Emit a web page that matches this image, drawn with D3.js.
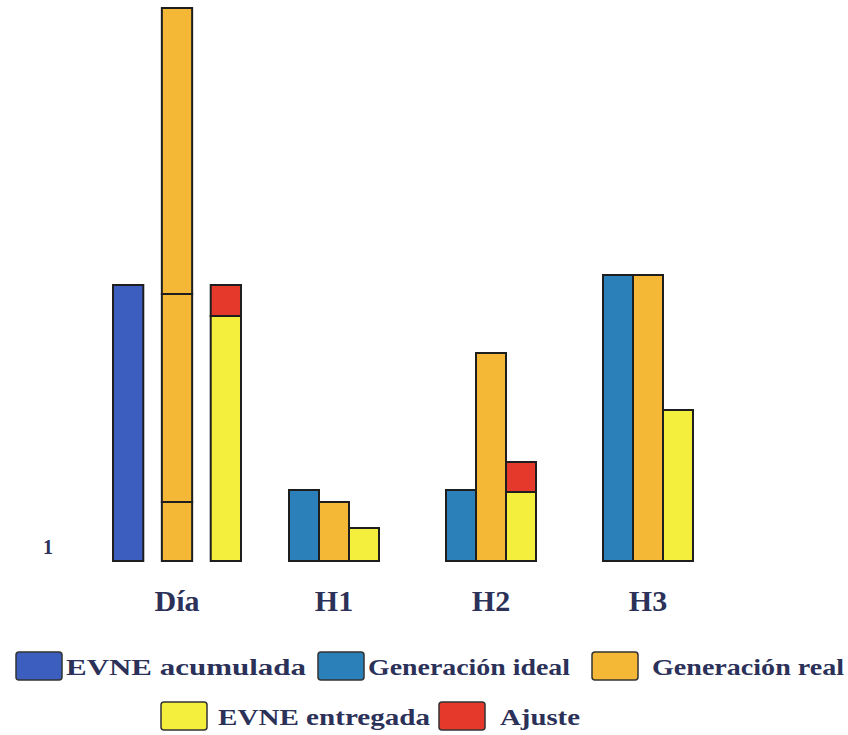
<!DOCTYPE html>
<html>
<head>
<meta charset="utf-8">
<script src="https://cdn.jsdelivr.net/npm/d3@7"></script>
<style>
  body { margin: 0; background: #fff; }
  svg text { font-family: "Liberation Serif", "DejaVu Serif", serif; font-weight: bold; fill: #2b3158; }
</style>
</head>
<body>
<div id="chart"></div>
<script>
// categories
const categories = ["Día", "H1", "H2", "H3"];
const hours = ["H1", "H2", "H3"];

// hourly series (arbitrary units)
const generacionIdeal = [71, 71, 286];
const generacionReal = [59, 208, 286];
const evneEntregada = [33, 69, 151];
const ajuste = [0, 30, 0];

// day totals
const evneAcumuladaDia = 276;
const evneEntregadaDia = 245;
const ajusteDia = 31;

const legendItems = [
  {name: "EVNE acumulada", key: "acum"},
  {name: "Generación ideal", key: "ideal"},
  {name: "Generación real", key: "real"},
  {name: "EVNE entregada", key: "entr"},
  {name: "Ajuste", key: "ajuste"}
];

const colors = {
  acum: "#3c5fbf",
  ideal: "#2b80b9",
  real: "#f5b836",
  entr: "#f4ef3c",
  ajuste: "#e5392b"
};

const width = 848, height = 735;
const svg = d3.select("#chart").append("svg")
  .attr("width", width)
  .attr("height", height);

const y = d3.scaleLinear().domain([0, 560]).range([561, 1]);

// group centres
const x = d3.scalePoint().domain(categories).range([177, 648]);

// inner scales
const dayInner = d3.scaleBand().domain(["acum", "real", "entr"])
  .range([-64, 64]).paddingInner(0.38);
const hourInner = d3.scaleBand().domain(["ideal", "real", "entr"])
  .range([-45, 45]).padding(0);

const stroke = "#1e1e1e";

function bar(g, x0, w, v0, v1, color) {
  g.append("rect")
    .attr("x", x0)
    .attr("width", w)
    .attr("y", y(v1))
    .attr("height", y(v0) - y(v1))
    .attr("fill", color)
    .attr("stroke", stroke)
    .attr("stroke-width", 2);
}

const bars = svg.append("g");

// Día group
const cx = x("Día");
bar(bars, cx + dayInner("acum"), dayInner.bandwidth(), 0, evneAcumuladaDia, colors.acum);
let acc = 0;
generacionReal.forEach(v => {
  bar(bars, cx + dayInner("real"), dayInner.bandwidth(), acc, acc + v, colors.real);
  acc += v;
});
bar(bars, cx + dayInner("entr"), dayInner.bandwidth(), 0, evneEntregadaDia, colors.entr);
bar(bars, cx + dayInner("entr"), dayInner.bandwidth(), evneEntregadaDia, evneEntregadaDia + ajusteDia, colors.ajuste);

// hourly groups
hours.forEach((h, i) => {
  const c = x(h);
  bar(bars, c + hourInner("ideal"), hourInner.bandwidth(), 0, generacionIdeal[i], colors.ideal);
  bar(bars, c + hourInner("real"), hourInner.bandwidth(), 0, generacionReal[i], colors.real);
  bar(bars, c + hourInner("entr"), hourInner.bandwidth(), 0, evneEntregada[i], colors.entr);
  if (ajuste[i] > 0)
    bar(bars, c + hourInner("entr"), hourInner.bandwidth(), evneEntregada[i], evneEntregada[i] + ajuste[i], colors.ajuste);
});

// category labels
svg.append("g").selectAll("text")
  .data(categories)
  .join("text")
  .attr("x", d => x(d))
  .attr("y", 611)
  .attr("text-anchor", "middle")
  .attr("font-size", 30)
  .text(d => d);

// lone axis tick
svg.append("text")
  .attr("x", 48)
  .attr("y", 554)
  .attr("text-anchor", "middle")
  .attr("font-size", 20)
  .text("1");

// legend
const legendPos = [
  {sx: 16, sy: 652, tx: 66, tw: 240},
  {sx: 318, sy: 652, tx: 368, tw: 202},
  {sx: 592, sy: 652, tx: 652, tw: 192},
  {sx: 161, sy: 702, tx: 218, tw: 212},
  {sx: 439, sy: 702, tx: 500, tw: 80}
];
const legend = svg.append("g").selectAll("g")
  .data(legendItems)
  .join("g");

legend.append("rect")
  .attr("x", (d, i) => legendPos[i].sx)
  .attr("y", (d, i) => legendPos[i].sy)
  .attr("width", 46)
  .attr("height", 28)
  .attr("rx", 3)
  .attr("fill", d => colors[d.key])
  .attr("stroke", "#333")
  .attr("stroke-width", 1.5);

legend.append("text")
  .attr("x", (d, i) => legendPos[i].tx)
  .attr("y", (d, i) => legendPos[i].sy + 23)
  .attr("font-size", 23)
  .attr("textLength", (d, i) => legendPos[i].tw)
  .attr("lengthAdjust", "spacingAndGlyphs")
  .text(d => d.name);
</script>
</body>
</html>
